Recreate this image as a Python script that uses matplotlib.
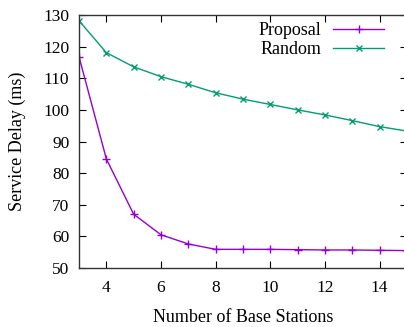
import matplotlib
matplotlib.use("Agg")
import matplotlib.pyplot as plt

stations = [3, 4, 5, 6, 7, 8, 9, 10, 11, 12, 13, 14, 15]
proposal = [116.8, 84.5, 67.0, 60.5, 57.6, 55.9, 55.9, 55.9, 55.8, 55.7, 55.7, 55.6, 55.5]
random_bs = [128.2, 118.1, 113.6, 110.5, 108.1, 105.4, 103.4, 101.7, 100.0, 98.4, 96.6, 94.7, 93.3]

plt.rcParams["font.family"] = ["Liberation Serif", "DejaVu Serif"]
plt.rcParams["font.size"] = 12.5

fig = plt.figure(figsize=(4.04, 3.27), dpi=100)
ax = fig.add_axes([79 / 404, 1 - 268 / 327, 328 / 404, 253 / 327])

ax.plot(stations, proposal, color="#9400D3", marker="+", markersize=6, lw=1, label="Proposal")
ax.plot(stations, random_bs, color="#009E73", marker="x", markersize=5, lw=1, label="Random")

ax.set_xlim(3, 15)
ax.set_ylim(50, 130)
ax.set_xticks([4, 6, 8, 10, 12, 14])
ax.set_yticks(range(50, 131, 10))
ax.tick_params(direction="in", top=True, right=True, length=5, width=0.8)
ax.tick_params(axis="x", pad=9)
ax.tick_params(axis="y", pad=7)
for s in ax.spines.values():
    s.set_linewidth(1)
    s.set_color("#333333")

ax.set_xlabel("Number of Base Stations", fontsize=13, labelpad=9)
ax.set_ylabel("Service Delay (ms)", fontsize=13, labelpad=12)

ax.legend(loc="upper right", frameon=False, markerfirst=False, handlelength=2.8,
          handletextpad=0.65, borderaxespad=0, borderpad=0, labelspacing=0.1,
          fontsize=13, bbox_to_anchor=(0.93, 0.972))

fig.savefig("out.png", dpi=100)
